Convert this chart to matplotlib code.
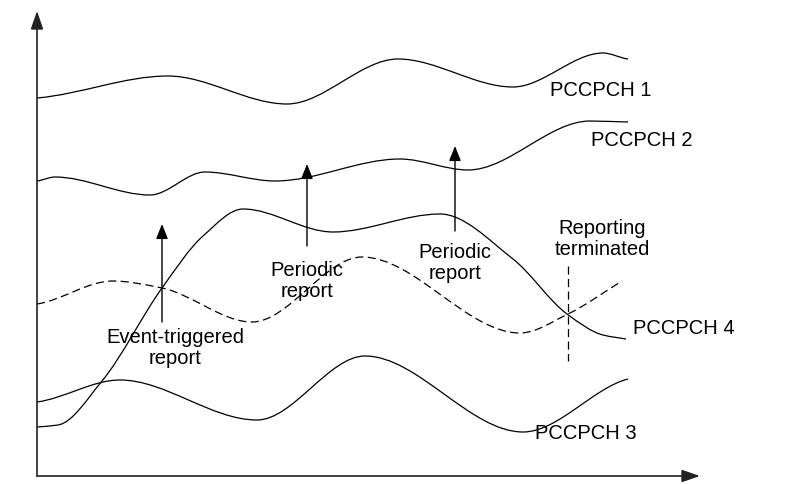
import matplotlib
matplotlib.use("Agg")
import matplotlib.pyplot as plt
import numpy as np
from matplotlib.path import Path
from matplotlib.patches import PathPatch

plt.rcParams['font.family'] = ['Liberation Sans', 'DejaVu Sans']

# curve knots (pixel coordinates, y downwards)
pccpch1 = [(37, 99), (168, 77), (287, 105), (398, 60), (513, 88), (603, 54), (628, 60)]
pccpch2 = [(37, 182), (55, 178), (150, 196), (205, 173), (275, 182), (400, 160),
           (468, 171), (590, 122), (628, 123)]
pccpch4 = [(37, 428), (58, 426), (102, 382), (162, 289), (203, 237), (243, 210),
           (333, 233), (440, 215), (513, 260), (567, 315), (603, 336), (626, 340)]
serving = [(37, 305), (113, 282), (162, 289), (252, 323), (362, 258),
           (520, 334), (568, 315), (622, 282)]
pccpch3 = [(37, 403), (120, 381), (257, 421), (365, 357), (523, 433), (628, 380)]

# report arrows: x, tail y, tip y
report_x = [162, 307, 455]
report_tail = [323, 247, 232]
report_tip = [225, 165, 147]

# labels: text, x, y
labels = [
    ("PCCPCH 1", 550, 91, 'left'),
    ("PCCPCH 2", 591, 141, 'left'),
    ("PCCPCH 4", 633, 329, 'left'),
    ("PCCPCH 3", 535, 434, 'left'),
    ("Event-triggered\nreport", 175, 348, 'center'),
    ("Periodic\nreport", 307, 281, 'center'),
    ("Periodic\nreport", 455, 263, 'center'),
    ("Reporting\nterminated", 602, 239, 'center'),
]


def smooth_path(pts):
    # monotone cubic through the knots, handed to matplotlib as bezier segments
    p = np.array(pts, dtype=float)
    x, y = p[:, 0], p[:, 1]
    h = np.diff(x)
    d = np.diff(y) / h
    m = np.zeros(len(x))
    for i in range(1, len(x) - 1):
        if d[i - 1] * d[i] > 0:
            w1, w2 = 2 * h[i] + h[i - 1], h[i] + 2 * h[i - 1]
            m[i] = (w1 + w2) / (w1 / d[i - 1] + w2 / d[i])
    m[0] = d[0] * 0.5 if d[0] * d[1] <= 0 else d[0]
    m[-1] = d[-1] * 0.5 if d[-1] * d[-2] <= 0 else d[-1]
    verts = [(x[0], y[0])]
    codes = [Path.MOVETO]
    for i in range(len(h)):
        verts += [(x[i] + h[i] / 3, y[i] + m[i] * h[i] / 3),
                  (x[i + 1] - h[i] / 3, y[i + 1] - m[i + 1] * h[i] / 3),
                  (x[i + 1], y[i + 1])]
        codes += [Path.CURVE4] * 3
    return Path(verts, codes)


fig = plt.figure(figsize=(8.06, 4.85), dpi=100)
ax = fig.add_axes([0, 0, 1, 1])
ax.set_xlim(0, 806)
ax.set_ylim(485, 0)
ax.axis('off')

for pts in [pccpch1, pccpch2, pccpch4, pccpch3]:
    ax.add_patch(PathPatch(smooth_path(pts), fill=False, lw=0.9, ec='black'))
ax.add_patch(PathPatch(smooth_path(serving), fill=False, lw=0.9, ec='black',
                       linestyle=(0, (6.5, 3.5))))

# axes with arrowheads
ax.annotate('', xy=(37, 12), xytext=(37, 477),
            arrowprops=dict(arrowstyle='-|>,head_length=1.1,head_width=0.38',
                            mutation_scale=10, lw=1.2, color='#222',
                            shrinkA=0, shrinkB=0))
ax.annotate('', xy=(700, 477), xytext=(37, 477),
            arrowprops=dict(arrowstyle='-|>,head_length=1.1,head_width=0.38',
                            mutation_scale=10, lw=1.2, color='#222',
                            shrinkA=0, shrinkB=0))

for x, y0, y1 in zip(report_x, report_tail, report_tip):
    ax.annotate('', xy=(x, y1), xytext=(x, y0),
                arrowprops=dict(arrowstyle='-|>,head_length=0.9,head_width=0.36',
                                mutation_scale=10, lw=1.0, color='black',
                                shrinkA=0, shrinkB=0))

# reporting terminated marker
ax.plot([568, 568], [267, 362], color='black', lw=0.9, linestyle=(0, (6.5, 3.5)))

for txt, x, y, ha in labels:
    ax.text(x, y, txt, ha=ha, va='center', fontsize=14.5, linespacing=1.1)

fig.savefig('out.png', dpi=100)
